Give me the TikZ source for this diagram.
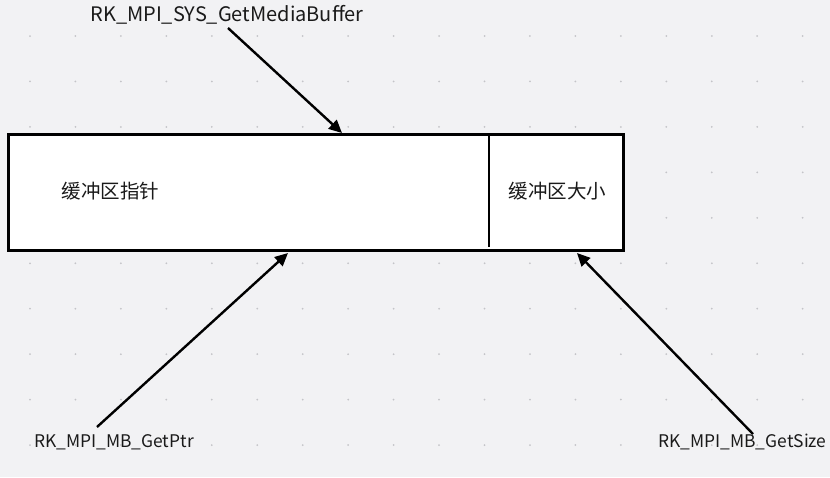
\documentclass[tikz,border=0pt]{standalone}
\usepackage{fontspec}
\setmainfont{Noto Sans CJK SC}
\usetikzlibrary{arrows.meta}
\definecolor{bgc}{HTML}{F2F2F4}
\definecolor{dotc}{HTML}{C4C4C8}
\definecolor{txt}{HTML}{1A1A1A}
\tikzset{
  lbl/.style={inner sep=0pt, text=txt, font=\fontsize{17.4}{20}\selectfont},
  toplbl/.style={inner sep=0pt, text=txt, font=\fontsize{20}{24}\selectfont},
  cjk/.style={inner sep=0pt, text=txt, font=\fontsize{19.5}{21}\selectfont},
  conn/.style={line width=2.4pt, -{Triangle[length=13pt,width=12pt]}},
  boxst/.style={draw, line width=3pt, fill=white, inner sep=0pt, minimum width=615pt, minimum height=116pt},
}
\begin{document}
\begin{tikzpicture}[x=1pt,y=-1pt]
\useasboundingbox (0,0) rectangle (830,477);
\fill[bgc] (0,0) rectangle (830,477);
\foreach \i in {0,...,17}
  \foreach \j in {0,...,9}
    \fill[dotc] ({30+45.45*\i},{36+45.45*\j}) circle (1pt);
\node[boxst] (buf) at (315.5,192) {};
\coordinate (divtop) at (489,134);
\coordinate (divbot) at (489,247);
\draw[line width=2.4pt] (divtop) -- (divbot);
\node[cjk] (ptr) at (110.5,191) {缓冲区指针};
\node[cjk] (size) at (557.5,191) {缓冲区大小};
\node[toplbl] (get) at (227,15) {RK\_MPI\_SYS\_GetMediaBuffer};
\node[lbl] (gptr) at (114,442) {RK\_MPI\_MB\_GetPtr};
\node[lbl] (gsize) at (742.5,442) {RK\_MPI\_MB\_GetSize};
\coordinate (s1) at (228,28);
\coordinate (t1) at (342,133);
\coordinate (s2) at (97,427);
\coordinate (t2) at (288,253);
\coordinate (s3) at (753,434);
\coordinate (t3) at (577,253);
\draw[conn] (s1) -- (t1);
\draw[conn] (s2) -- (t2);
\draw[conn] (s3) -- (t3);
\end{tikzpicture}
\end{document}
